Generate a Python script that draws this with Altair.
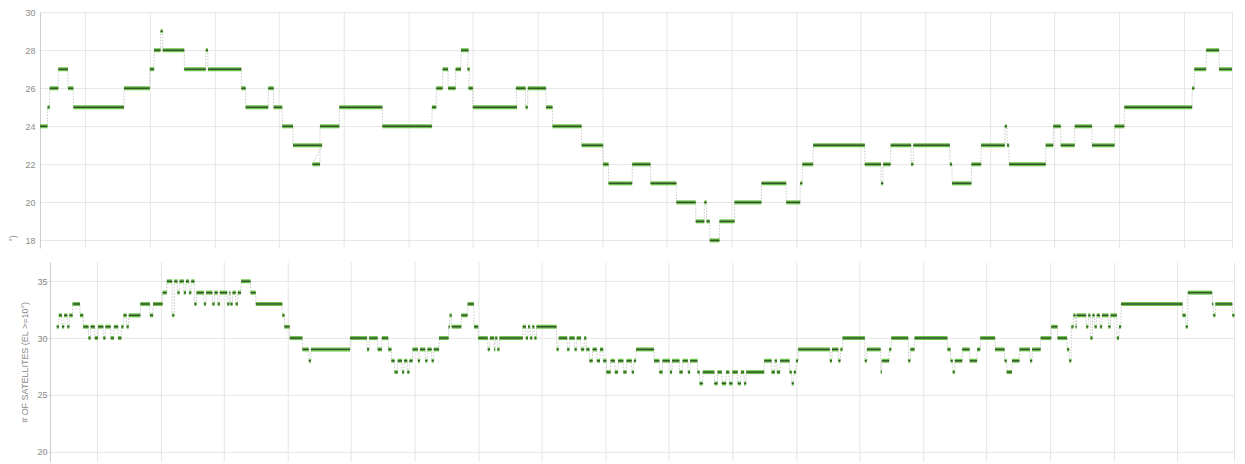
import altair as alt
import pandas as pd

# ---- data: runs of constant satellite count, (start_min, end_min, count) ----
top_runs = [(-42,-35,24),(-35,-33,25),(-33,-25,26),(-25,-16,27),(-16,-11,26),(-11,36,25),(36,60,26),(60,64,27),
            (64,70,28),(70,72,29),(72,92,28),(92,112,27),(112,114,28),(114,145,27),(145,149,26),(149,170,25),
            (170,175,26),(175,183,25),(183,193,24),(193,220,23),(211,218,22),(218,236,24),(236,276,25),(276,322,24),
            (322,326,25),(326,332,26),(332,337,27),(337,344,26),(344,349,27),(349,356,28),(355,357,27),(356,360,26),
            (360,401,25),(400,409,26),(409,411,25),(411,428,26),(428,434,25),(434,461,24),(461,481,23),(481,486,22),
            (486,508,21),(508,525,22),(525,549,21),(549,567,20),(567,575,19),(575,577,20),(577,580,19),(580,589,18),
            (589,603,19),(603,628,20),(628,651,21),(651,664,20),(664,666,21),(666,676,22),(676,724,23),(724,739,22),
            (739,741,21),(741,748,22),(748,767,23),(767,769,22),(769,803,23),(803,805,22),(805,823,21),(823,832,22),
            (832,854,23),(854,856,24),(856,858,23),(858,892,22),(892,899,23),(899,906,24),(906,919,23),(919,935,24),
            (935,956,23),(956,965,24),(965,1028,25),(1028,1030,26),(1030,1041,27),(1041,1053,28),(1053,1065,27)]

bottom_runs = [(-38,-36,31),(-36,-33,32),(-33,-31,31),(-31,-28,32),(-28,-26,31),(-26,-23,32),(-23,-16,33),(-16,-13,32),
               (-13,-8,31),(-8,-6,30),(-6,-2,31),(-2,1,30),(1,6,31),(6,8,30),(8,13,31),(13,16,30),(16,20,31),(20,23,30),
               (23,25,31),(25,28,32),(28,30,31),(30,41,32),(41,50,33),(50,53,32),(53,62,33),(62,66,34),(66,71,35),
               (71,73,32),(73,76,35),(76,78,34),(78,82,35),(82,84,34),(84,87,35),(87,89,34),(89,92,35),(92,94,33),
               (94,101,34),(101,103,33),(103,109,34),(109,111,33),(111,114,34),(114,116,33),(116,123,34),(123,125,33),
               (125,126,34),(126,128,33),(128,131,34),(131,133,33),(133,136,34),(136,145,35),(145,150,34),(150,175,33),
               (175,177,32),(177,182,31),(182,194,30),(194,200,29),(200,202,28),(202,239,29),(239,255,30),(255,257,29),
               (257,265,30),(265,269,29),(269,275,30),(275,278,29),(278,281,28),(281,284,27),(284,288,28),(288,290,27),
               (290,293,28),(293,295,27),(295,298,28),(298,303,29),(303,305,28),(305,310,29),(310,312,28),(312,316,29),
               (316,318,28),(318,323,29),(323,332,30),(332,333,31),(333,335,32),(335,344,31),(344,350,32),(350,356,33),
               (356,360,31),(360,369,30),(369,371,29),(371,375,30),(375,376,29),(376,378,30),(378,380,29),(380,402,30),
               (402,405,31),(405,407,30),(407,409,31),(409,411,30),(411,413,31),(413,415,30),(415,434,31),(434,436,29),
               (436,444,30),(444,446,29),(446,451,30),(451,453,29),(453,457,30),(457,460,29),(460,462,30),(462,465,29),
               (465,468,28),(468,472,29),(472,475,28),(475,478,29),(478,481,28),(481,485,27),(485,489,28),(489,492,27),
               (492,497,28),(497,500,27),(500,505,28),(505,507,27),(507,509,28),(509,526,29),(526,531,28),(531,534,27),
               (534,541,28),(541,543,27),(543,550,28),(550,553,27),(553,558,28),(558,560,27),(560,567,28),(567,569,27),
               (569,572,26),(572,583,27),(583,586,26),(586,590,27),(590,594,26),(594,597,27),(597,600,26),(600,605,27),
               (605,608,26),(608,611,27),(611,613,26),(613,630,27),(630,637,28),(637,640,27),(640,642,28),(642,645,27),
               (645,654,28),(654,656,27),(656,658,26),(658,660,27),(660,662,28),(662,692,29),(692,694,28),(694,700,29),
               (700,702,28),(702,704,29),(704,725,30),(725,727,28),(727,740,29),(740,741,27),(741,748,28),(748,750,29),
               (750,766,30),(766,768,28),(768,772,29),(772,803,30),(803,806,29),(806,808,28),(808,810,27),(810,817,28),
               (817,824,29),(824,831,28),(831,834,29),(834,848,30),(848,857,29),(857,859,28),(859,864,27),(864,871,28),
               (871,881,29),(881,883,28),(883,891,29),(891,901,30),(901,907,31),(907,916,30),(916,918,29),(918,920,28),
               (920,922,31),(922,924,32),(924,925,31),(925,934,32),(934,936,31),(936,938,32),(938,940,30),(940,942,32),
               (942,944,31),(944,947,32),(947,949,31),(949,955,32),(955,957,31),(957,963,32),(963,965,30),(965,967,31),
               (967,1025,33),(1025,1028,32),(1028,1030,31),(1030,1053,34),(1053,1054,33),(1054,1056,32),(1056,1072,33),
               (1072,1074,32)]

grid_minutes = [0, 60, 120, 180, 240, 300, 360, 420, 480, 540, 600, 660, 720, 780, 840, 900, 960, 1020]
top_yticks = [18, 20, 22, 24, 26, 28, 30]
bottom_yticks = [20, 25, 30, 35]
top_xdomain = [-42, 1065]
bottom_xdomain = [-53.8, 1073.6]
top_ydomain = [17.6, 30]
bottom_ydomain = [19.1, 36.7]

GREEN = "#6cc24a"
CORE = "#34502c"
GRID = "#e6e6e6"
LABEL = "#8a8a8a"
FONT = "Liberation Sans"


def run_table(runs):
    return pd.DataFrame([{"start": s, "end": e, "sats": v} for s, e, v in runs])


def path_table(runs):
    rows = []
    for i, (s, e, v) in enumerate(runs):
        rows.append({"t": s, "sats": v, "seq": 2 * i})
        rows.append({"t": e, "sats": v, "seq": 2 * i + 1})
    return pd.DataFrame(rows)


def panel(runs, xdom, ydom, yaxis, width, height):
    xs = alt.Scale(domain=xdom, nice=False, zero=False)
    ys = alt.Scale(domain=ydom, nice=False, zero=False)
    xaxis = alt.Axis(values=grid_minutes + [xdom[1]], labels=False, ticks=False, domain=False,
                     grid=True, gridColor=GRID, title=None)
    runs_df = run_table(runs)
    conn = alt.Chart(path_table(runs)).mark_line(color="#b0b0b0", strokeWidth=0.7, strokeDash=[1.5, 1.5]).encode(
        x=alt.X("t:Q", scale=xs, axis=xaxis),
        y=alt.Y("sats:Q", scale=ys, axis=yaxis),
        order="seq:Q",
    )
    halo = alt.Chart(runs_df).mark_rule(color=GREEN, strokeWidth=4).encode(
        x=alt.X("start:Q", scale=xs, axis=xaxis), x2="end:Q",
        y=alt.Y("sats:Q", scale=ys, axis=yaxis),
    )
    core = alt.Chart(runs_df).mark_rule(color=CORE, strokeWidth=1.4).encode(
        x=alt.X("start:Q", scale=xs, axis=xaxis), x2="end:Q",
        y=alt.Y("sats:Q", scale=ys, axis=yaxis),
    )
    return alt.layer(conn, halo, core).properties(width=width, height=height)


top_yaxis = alt.Axis(values=top_yticks, grid=True, gridColor=GRID, domainColor="#cccccc", ticks=False,
                     labelColor=LABEL, labelFontSize=9, labelFont=FONT, labelPadding=5,
                     title="°)", titleColor=LABEL, titleFontSize=9, titleFont=FONT, titleFontWeight="normal",
                     titleY=226, titlePadding=7)
bottom_yaxis = alt.Axis(values=bottom_yticks, grid=True, gridColor=GRID, domainColor="#cccccc", ticks=False,
                        offset=-10, labelColor=LABEL, labelFontSize=9, labelFont=FONT, labelPadding=3,
                        title="# OF SATELLITES (EL >=10°)", titleColor=LABEL, titleFontSize=9, titleFont=FONT,
                        titleFontWeight="normal", titlePadding=7)

top = panel(top_runs, top_xdomain, top_ydomain, top_yaxis, 1193, 236)
bottom = panel(bottom_runs, bottom_xdomain, bottom_ydomain, bottom_yaxis, 1195, 200)

chart = alt.vconcat(top, bottom, spacing=14).properties(
    padding={"left": 0, "top": 0, "right": 0, "bottom": 0}
).configure(background="white").configure_view(stroke=None)

chart.save("out.html", embed_options={"renderer": "svg", "actions": False})
